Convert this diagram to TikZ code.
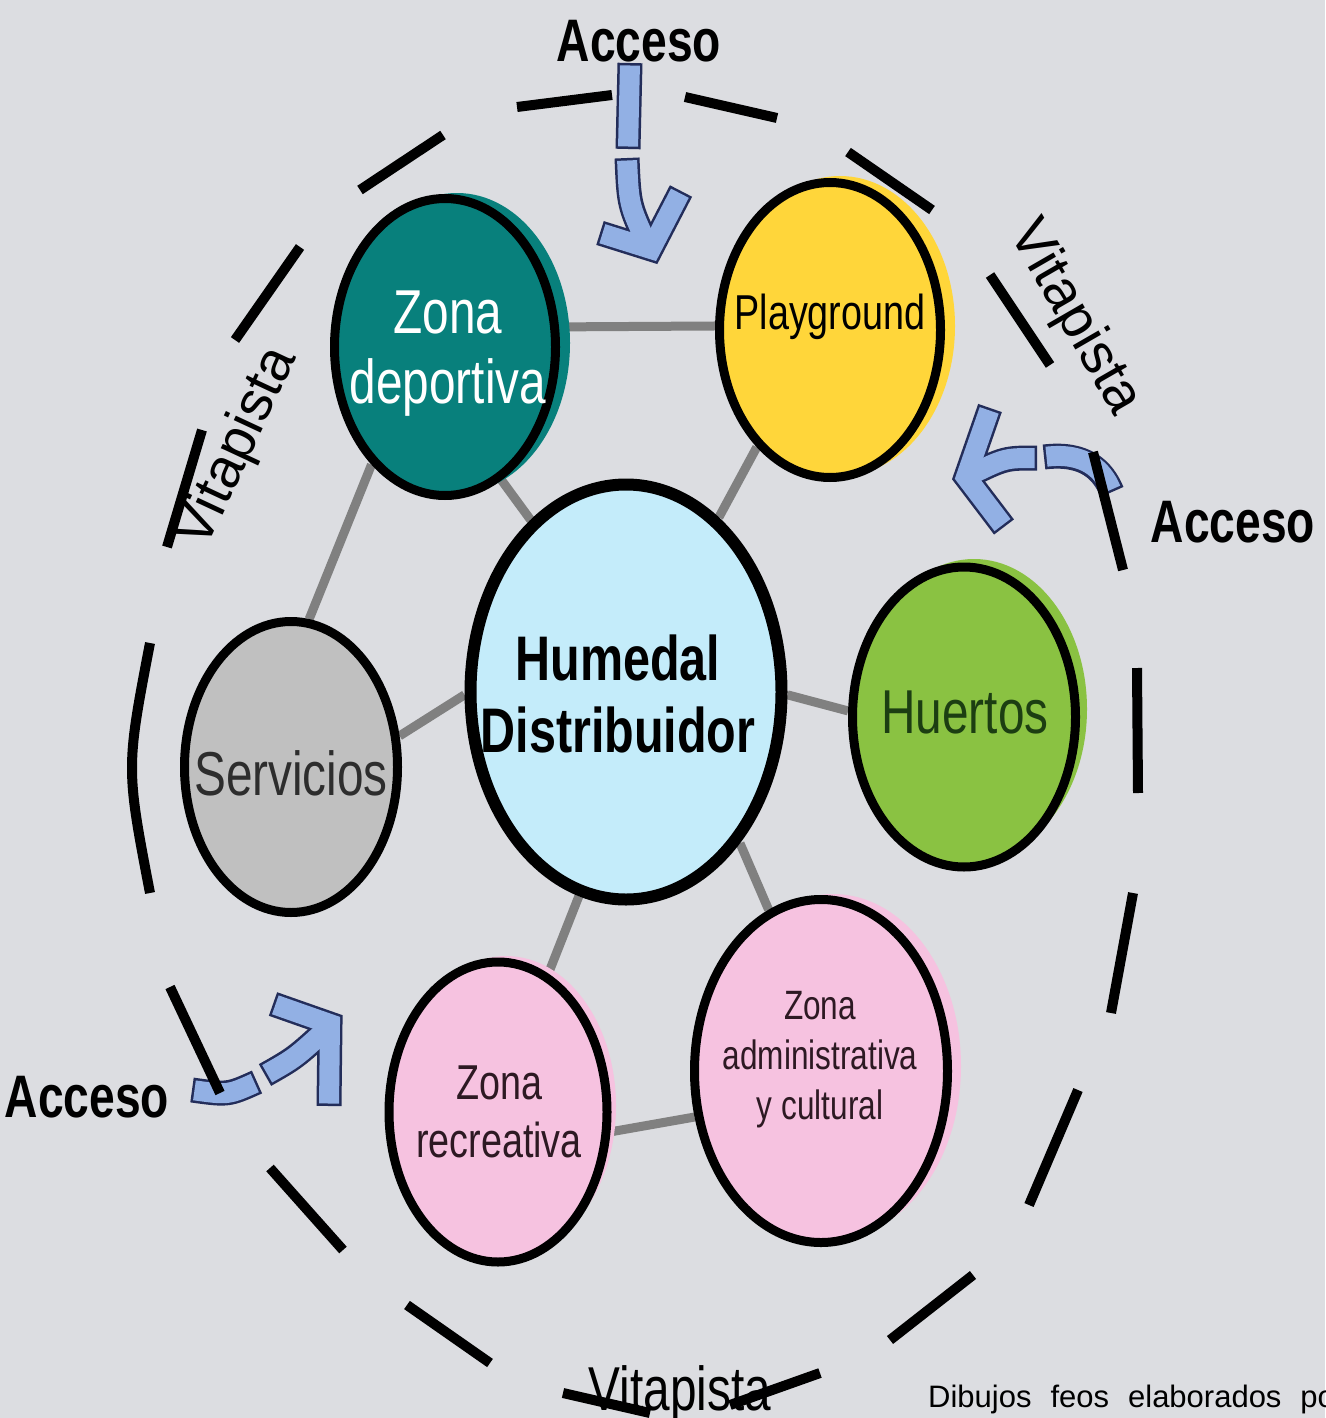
\documentclass[tikz,border=0pt]{standalone}
\usepackage{fontspec}
\setmainfont{Liberation Sans}
\newfontfamily\narrow[FakeStretch=0.77]{Liberation Sans}
\usetikzlibrary{shapes.geometric,backgrounds}
\definecolor{bgc}{RGB}{220,221,225}
\definecolor{tealc}{RGB}{8,128,124}
\definecolor{yellowc}{RGB}{255,214,58}
\definecolor{bluec}{RGB}{196,236,250}
\definecolor{greenc}{RGB}{138,194,66}
\definecolor{greyc}{RGB}{192,192,192}
\definecolor{pinkc}{RGB}{246,194,224}
\definecolor{congrey}{RGB}{128,128,128}
\definecolor{arrowblue}{RGB}{146,176,228}
\definecolor{arrowedge}{RGB}{35,45,90}
\definecolor{darkgreen}{RGB}{28,62,18}
\definecolor{darkpink}{RGB}{45,25,35}
\definecolor{darkgrey}{RGB}{45,45,45}
\newlength\creditspace
\setlength\creditspace{19pt}
\begin{document}
\begin{tikzpicture}[x=1pt,y=-1pt,
  zone/.style={ellipse, draw=black, line width=9pt, inner sep=0pt},
  conn/.style={draw=congrey, line width=9pt},
  txt/.style={font=\narrow\fontsize{62}{70}\selectfont, align=center, inner sep=0pt},
  dashseg/.style={draw=black, line width=10pt, line cap=butt},
  lbl/.style={font=\narrow\bfseries\fontsize{60}{70}\selectfont, inner sep=0pt},
  vita/.style={font=\fontsize{56}{64}\selectfont, inner sep=0pt},
  aout/.style={draw=arrowedge, line width=25pt},
  ain/.style={draw=arrowblue, line width=20pt, shorten <=2.5pt, shorten >=2.5pt},
  chev/.style={line join=miter, miter limit=10}
]
\useasboundingbox (0,0) rectangle (1325,1418);
\begin{pgfonlayer}{background}
  \fill[bgc] (0,0) rectangle (1325,1418);
\end{pgfonlayer}

% access arrows
% top
\draw[aout] (630,63) -- (628,149);
\draw[ain] (630,63) -- (628,149);
\draw[aout] (627,158) .. controls (629,205) .. (648,246);
\draw[aout,chev] (600,233) -- (651,249) -- (681,191);
\draw[ain] (627,158) .. controls (629,205) .. (648,246);
\draw[ain,chev] (600,233) -- (651,249) -- (681,191);
% right
\draw[aout] (1044,457) .. controls (1085,452) and (1103,470) .. (1112,492);
\draw[ain] (1044,457) .. controls (1085,452) and (1103,470) .. (1112,492);
\draw[aout] (1037,458) .. controls (1005,458) .. (968,476);
\draw[aout,chev] (990,408) -- (966,477) -- (1004,527);
\draw[ain] (1037,458) .. controls (1005,458) .. (968,476);
\draw[ain,chev] (990,408) -- (966,477) -- (1004,527);
% left
\draw[aout] (192,1090) .. controls (228,1095) .. (257,1082);
\draw[ain] (192,1090) .. controls (228,1095) .. (257,1082);
\draw[aout] (265,1075) .. controls (295,1058) .. (329,1027);
\draw[aout,chev] (273,1004) -- (330,1024) -- (329,1106);
\draw[ain] (265,1075) .. controls (295,1058) .. (329,1027);
\draw[ain,chev] (273,1004) -- (330,1024) -- (329,1106);

% dashed ring (vitapista)
\draw[dashseg]
  (517,107) -- (612,95)
  (685,97) -- (777,118)
  (848,152) -- (932,210)
  (990,275) -- (1050,365)
  (1093,452) -- (1123,570)
  (1137,668) -- (1138,793)
  (1133,893) -- (1111,1013)
  (1078,1090) -- (1029,1205)
  (973,1275) -- (890,1340)
  (820,1373) -- (730,1405)
  (650,1413) -- (563,1393)
  (490,1363) -- (407,1305)
  (343,1250) -- (270,1168)
  (220,1093) -- (170,987)
  (150,893) .. controls (126,768) .. (150,643)
  (167,547) -- (202,430)
  (235,340) -- (300,247)
  (360,190) -- (443,135);

% colour offsets
\fill[tealc] (457,343) ellipse [x radius=113, y radius=150];
\fill[yellowc] (840,326) ellipse [x radius=115, y radius=150];
\fill[greenc] (974,709) ellipse [x radius=113, y radius=150];
\fill[pinkc] (833,1066) ellipse [x radius=128, y radius=172];
\fill[pinkc] (506,1106) ellipse [x radius=110, y radius=150];

% zones
\node[zone, fill=tealc, minimum width=221pt, minimum height=297pt] (dep) at (445,347) {};
\node[zone, fill=yellowc, minimum width=221pt, minimum height=295pt] (play) at (830,330) {};
\node[zone, fill=bluec, line width=12pt, minimum width=311pt, minimum height=415pt] (hum) at (626,692) {};
\node[zone, fill=greenc, minimum width=223pt, minimum height=300pt] (hue) at (964,717) {};
\node[zone, fill=greyc, minimum width=213pt, minimum height=291pt] (serv) at (291,767) {};
\node[zone, fill=pinkc, minimum width=218pt, minimum height=300pt] (rec) at (498,1112) {};
\node[zone, fill=pinkc, minimum width=253pt, minimum height=343pt] (adm) at (821,1071) {};

% connectors
\begin{pgfonlayer}{background}
  \draw[conn] (dep.10) -- (play.178);
  \draw[conn] (dep.-67) -- (hum.119);
  \draw[conn] (play.238) -- (hum.62);
  \draw[conn] (serv.83) -- (dep.238);
  \draw[conn] (serv.16) -- (hum.181);
  \draw[conn] (hum.-1) -- (hue.177);
  \draw[conn] (hum.257) -- (rec.70);
  \draw[conn] (hum.-53) -- (adm.108);
  \draw[conn] (rec.-10) -- (adm.200);
\end{pgfonlayer}

% zone texts
\node[txt, text=white] (dept) at (448,354) {Zona\\deportiva};
\node[txt, font=\narrow\fontsize{49}{58}\selectfont] (playt) at (830,317) {Playground};
\node[txt, font=\narrow\bfseries\fontsize{63}{72}\selectfont] (humt) at (618,694) {Humedal\\Distribuidor};
\node[txt, text=darkgreen] (huet) at (965,712) {Huertos};
\node[txt, text=darkgrey] (servt) at (291,773) {Servicios};
\node[txt, text=darkpink, font=\narrow\fontsize{49}{58}\selectfont] (rect) at (499,1112) {Zona\\recreativa};
\node[txt, text=darkpink, font=\narrow\fontsize{41}{50}\selectfont] (admt) at (820,1060) {Zona\\administrativa\\y cultural};

% labels
\node[lbl] (acc1) at (639,41) {Acceso};
\node[lbl] (acc2) at (1233,522) {Acceso};
\node[lbl] (acc3) at (87,1097) {Acceso};
\node[vita, rotate=65] (vit1) at (238,448) {Vitapista};
\node[vita, rotate=-60] (vit2) at (1074,318) {Vitapista};
\node[font=\narrow\fontsize{62}{70}\selectfont, inner sep=0pt, anchor=base] (vit3) at (680,1410) {Vitapista};

\begin{scope}
  \clip (0,0) rectangle (1325,1418);
  \node[font=\fontsize{31}{36}\selectfont, inner sep=0pt, anchor=base west] (credit) at (928,1407) {\spaceskip\creditspace Dibujos feos elaborados po};
\end{scope}
\end{tikzpicture}
\end{document}
